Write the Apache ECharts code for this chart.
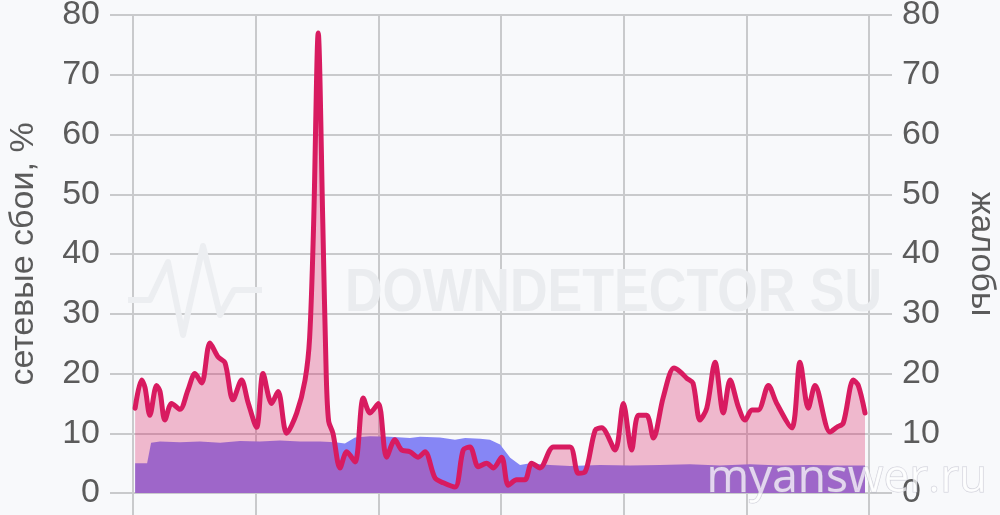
<!DOCTYPE html>
<html>
<head>
<meta charset="utf-8">
<script src="https://cdn.jsdelivr.net/npm/echarts@6/dist/echarts.min.js"></script>
<style>
html,body{margin:0;padding:0;background:#f8f9fb;}
#chart{width:1000px;height:515px;}
</style>
</head>
<body>
<div id="chart"></div>
<script>
// complaints line (hours of day, value)
const hours = [0.07,0.28,0.39,0.55,0.77,0.88,1.04,1.26,1.53,1.79,2.02,2.24,2.51,2.77,3.00,3.26,3.54,3.75,4.03,4.24,4.52,4.73,5.01,5.34,5.61,5.76,5.89,6.04,6.19,6.30,6.38,6.52,6.75,6.97,7.24,7.51,7.73,8.00,8.27,8.54,8.76,9.03,9.30,9.52,9.85,10.12,10.50,10.77,10.99,11.26,11.53,11.75,12.02,12.24,12.51,12.78,13.00,13.27,13.71,14.25,14.52,14.74,15.07,15.28,15.72,15.99,16.26,16.48,16.75,16.97,17.29,17.64,17.84,18.06,18.26,18.49,18.71,18.98,19.25,19.47,19.74,19.96,20.18,20.39,20.72,20.99,21.48,21.75,22.02,22.24,22.73,22.95,23.16,23.49,23.65,23.87];
const complaints = [14.2,18.9,17.7,13,18,17,12.2,15,14,17.2,20,18.4,25.1,22.8,21.8,15.6,18.9,15.2,11,20,15,17,10,13.4,18.9,26,45,77,45,20,12,10,4.2,6.9,5.2,15.9,13.4,15,6,8.9,7.2,6.9,6,6.9,2.5,1.7,1,7.2,7.7,4.4,5,4.2,6,1.3,2.2,2.2,5,4.2,7.7,7.7,3.3,3.5,10.5,10.9,7.2,15,7.2,13,13,9.2,16,20.9,20.3,19.2,18.4,12.2,14.2,21.9,13.4,18.9,14.4,12.2,13.9,13.9,18,15,10.9,21.9,14.2,18,10.2,11,11.7,18.9,18,13.4];
// baseline (typical level)
const baseHours = [0.07,0.46,0.59,0.88,1.53,2.18,2.84,3.49,4.14,4.79,5.45,6.10,6.59,6.91,7.24,7.73,8.38,9.03,9.36,10.01,10.50,10.83,11.32,11.64,11.97,12.30,12.62,12.95,13.60,14.25,15.23,16.21,17.18,18.16,19.14,20.12,21.10,22.08,23.05,23.87];
const baseline = [5.0,5.0,8.4,8.6,8.5,8.6,8.4,8.7,8.6,8.8,8.6,8.6,8.5,8.3,9.3,9.5,9.4,9.2,9.4,9.3,8.9,9.2,9.1,8.9,8.1,5.9,4.7,5.0,4.7,4.5,4.7,4.6,4.7,4.8,4.6,4.8,4.6,4.7,4.6,4.6];
const leftName = 'сетевые сбои, %';
const rightName = 'жалобы';
const watermark1 = 'DOWNDETECTOR SU';
const watermark2 = 'myanswer.ru';

const chart = echarts.init(document.getElementById('chart'), null, {renderer:'canvas'});
const gridColor = '#c9cacc';
const labelColor = '#5b5b5b';
const font = "'Liberation Sans', Arial, sans-serif";

const yCommon = {
  type:'value', min:0, max:80, interval:10,
  axisLine:{show:false},
  axisTick:{show:true, length:23, lineStyle:{color:gridColor, width:2}},
  axisLabel:{fontSize:34, color:labelColor, fontFamily:font, margin:33},
  nameLocation:'middle',
  nameTextStyle:{fontSize:34, color:labelColor, fontFamily:font}
};

chart.setOption({
  animation:false,
  backgroundColor:'#f8f9fb',
  grid:{left:133, right:131, top:15, bottom:22, containLabel:false, outerBoundsMode:'none'},
  xAxis:{
    type:'value', min:0, max:24, interval:4,
    axisLine:{show:false},
    axisTick:{show:true, length:24, lineStyle:{color:gridColor, width:2}},
    axisLabel:{show:false},
    splitLine:{show:true, lineStyle:{color:gridColor, width:2}}
  },
  yAxis:[
    Object.assign({}, yCommon, {position:'left', name:leftName, nameGap:92,
      splitLine:{show:true, lineStyle:{color:gridColor, width:2}}}),
    Object.assign({}, yCommon, {position:'right', name:rightName, nameGap:95, nameRotate:-90,
      splitLine:{show:false}})
  ],
  graphic:[
    {type:'polyline', z:1, silent:true,
     shape:{points:[[128,300],[150,300],[168,262],[183,335],[203,246],[220,315],[234,290],[262,290]]},
     style:{stroke:'#eceef1', lineWidth:6, fill:null, lineJoin:'round'}},
    {type:'text', z:1, silent:true, x:345, y:263, scaleX:0.84,
     style:{text:watermark1, fill:'#eaecef', font:"bold 62px 'Liberation Sans',sans-serif"}},
    {type:'text', z:100, silent:true, left:706, top:455,
     style:{text:watermark2, fill:'rgba(255,255,255,0.72)', stroke:'rgba(170,170,185,0.55)', lineWidth:1,
       font:"46px 'Open Sans','Liberation Sans',sans-serif"}}
  ],
  series:[
    {type:'line', name:'baseline', yAxisIndex:0, showSymbol:false, smooth:false,
     data: baseHours.map((h,i)=>[h, baseline[i]]),
     lineStyle:{width:0, color:'#8686f5'},
     areaStyle:{color:'#8686f5', opacity:1}},
    {type:'line', name:'complaints', yAxisIndex:0, showSymbol:false, smooth:0.3,
     data: hours.map((h,i)=>[h, complaints[i]]),
     lineStyle:{width:5, color:'#d81b60', join:'round', cap:'round'},
     areaStyle:{color:'rgba(216,27,96,0.42)'}}
  ]
});
</script>
</body>
</html>
